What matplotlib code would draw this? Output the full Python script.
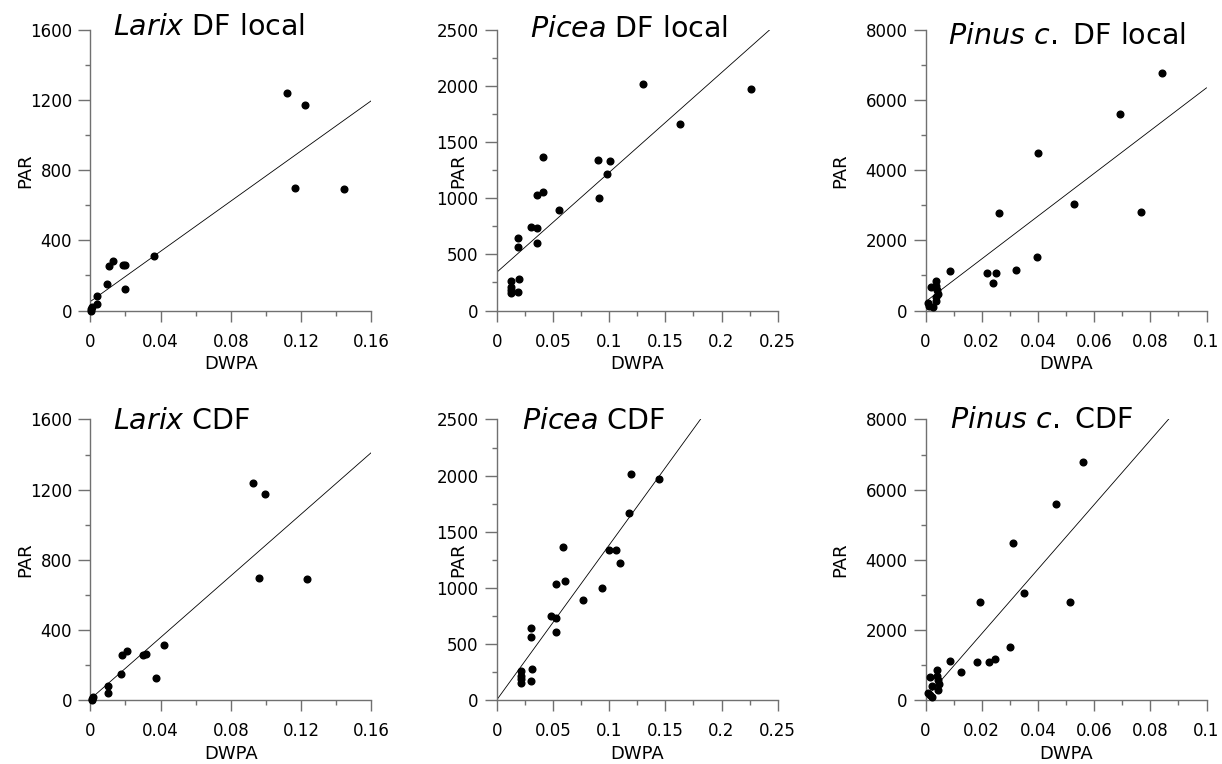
import numpy as np
import matplotlib
matplotlib.use('Agg')
import matplotlib.pyplot as plt
from matplotlib.ticker import FixedLocator, MultipleLocator

# ---- data ----
larix_par = [1240, 1175, 697, 693, 313, 282, 255, 258, 262, 150, 124, 81, 38, 19, 6, 0]
larix_dwpa_local = [0.112, 0.1224, 0.1167, 0.1446, 0.0363, 0.0129, 0.0105, 0.0185, 0.0196,
                    0.0097, 0.0198, 0.0038, 0.0038, 0.0008, 0.0005, 0.0003]
larix_dwpa_cdf = [0.0924, 0.0994, 0.0958, 0.1235, 0.0422, 0.0207, 0.0182, 0.0300, 0.0319,
                  0.0177, 0.0376, 0.0099, 0.0099, 0.0013, 0.0010, 0.0008]

picea_par = [2015, 1970, 1665, 1368, 1337, 1335, 1221, 1058, 1030, 1002, 892, 745, 733,
             606, 642, 562, 277, 262, 212, 183, 155, 165]
picea_dwpa_local = [0.130, 0.226, 0.1634, 0.0409, 0.0904, 0.1011, 0.0984, 0.0409, 0.0361,
                    0.0913, 0.0554, 0.0305, 0.0361, 0.0359, 0.0192, 0.0192, 0.0201, 0.013,
                    0.013, 0.013, 0.013, 0.0192]
picea_dwpa_cdf = [0.1199, 0.1446, 0.1176, 0.0591, 0.0998, 0.1060, 0.1099, 0.0611, 0.0526,
                  0.0935, 0.0766, 0.0481, 0.0528, 0.0528, 0.0308, 0.0308, 0.0317, 0.0214,
                  0.0214, 0.0214, 0.0214, 0.0308]

pinus_par = [6780, 5600, 4485, 3045, 2805, 2790, 1512, 1120, 1160, 1075, 1075, 795, 665,
             842, 685, 580, 470, 390, 285, 200, 130, 95]
pinus_dwpa_local = [0.0843, 0.0693, 0.0401, 0.0530, 0.0766, 0.0263, 0.0396, 0.0087, 0.0321,
                    0.0220, 0.0252, 0.0239, 0.0019, 0.0038, 0.0038, 0.0040, 0.0044, 0.0039,
                    0.0037, 0.0008, 0.0011, 0.0025]
pinus_dwpa_cdf = [0.0560, 0.0465, 0.0311, 0.0350, 0.0514, 0.0194, 0.0302, 0.0087, 0.0248,
                  0.0185, 0.0227, 0.0126, 0.0015, 0.0042, 0.0042, 0.0044, 0.0049, 0.0023,
                  0.0044, 0.0010, 0.0017, 0.0023]

# regression lines (slope, intercept)
fits = [(7160, 51), (8900, 340), (61000, 250),
        (8790, 5), (13800, 0), (92000, 50)]

titles = [('Larix', 'DF local'), ('Picea', 'DF local'), ('Pinus\\ c.', 'DF local'),
          ('Larix', 'CDF'), ('Picea', 'CDF'), ('Pinus\\ c.', 'CDF')]

larix_xticks = [0, 0.04, 0.08, 0.12, 0.16]
larix_xlabels = ['0', '0.04', '0.08', '0.12', '0.16']
larix_yticks = [0, 400, 800, 1200, 1600]
picea_xticks = [0, 0.05, 0.1, 0.15, 0.2, 0.25]
picea_xlabels = ['0', '0.05', '0.1', '0.15', '0.2', '0.25']
picea_yticks = [0, 500, 1000, 1500, 2000, 2500]
pinus_xticks = [0, 0.02, 0.04, 0.06, 0.08, 0.1]
pinus_xlabels = ['0', '0.02', '0.04', '0.06', '0.08', '0.1']
pinus_yticks = [0, 2000, 4000, 6000, 8000]

panels = [
    (larix_dwpa_local, larix_par, larix_xticks, larix_xlabels, larix_yticks, 0.02, 200),
    (picea_dwpa_local, picea_par, picea_xticks, picea_xlabels, picea_yticks, 0.025, 250),
    (pinus_dwpa_local, pinus_par, pinus_xticks, pinus_xlabels, pinus_yticks, 0.01, 1000),
    (larix_dwpa_cdf, larix_par, larix_xticks, larix_xlabels, larix_yticks, 0.02, 200),
    (picea_dwpa_cdf, picea_par, picea_xticks, picea_xlabels, picea_yticks, 0.025, 250),
    (pinus_dwpa_cdf, pinus_par, pinus_xticks, pinus_xlabels, pinus_yticks, 0.01, 1000),
]

# ---- layout ----
W, H = 1222, 764
lefts = [90.3, 496.7, 925.5]
tops = [30, 419.5]
aw, ah = 281, 280.5
title_off = [(23, 5), (33, 7), (22, 14), (23, 10), (25, 10), (25, 9)]  # px from top-left
ylab_x = [-0.20, -0.105, -0.27]

fig = plt.figure(figsize=(W / 100, H / 100), dpi=100)
gray = '#707070'

for i, (xs, ys, xt, xl, yt, xminor, yminor) in enumerate(panels):
    r, c = divmod(i, 3)
    ax = fig.add_axes([lefts[c] / W, (H - tops[r] - ah) / H, aw / W, ah / H])
    ax.set_xlim(0, xt[-1])
    ax.set_ylim(0, yt[-1])
    for s in ('top', 'right'):
        ax.spines[s].set_visible(False)
    for s in ('left', 'bottom'):
        ax.spines[s].set_color(gray)
        ax.spines[s].set_linewidth(1.0)

    ax.plot(xs, ys, 'o', ms=4.8, color='black', mec='black', clip_on=False, zorder=3)
    m, b = fits[i]
    lx = np.array([0, xt[-1]])
    ax.plot(lx, b + m * lx, color='black', lw=0.6)

    ax.xaxis.set_major_locator(FixedLocator(xt))
    ax.set_xticklabels(xl)
    ax.xaxis.set_minor_locator(MultipleLocator(xminor))
    ax.yaxis.set_major_locator(FixedLocator(yt))
    ax.set_yticklabels([str(v) for v in yt])
    ax.yaxis.set_minor_locator(MultipleLocator(yminor))
    ax.tick_params(which='both', direction='out', color=gray, width=1.0, labelsize=12)
    ax.tick_params(axis='x', which='major', length=8, pad=8)
    ax.tick_params(axis='y', which='major', length=9, pad=4)
    ax.tick_params(which='minor', length=3.6)

    ax.set_xlabel('DWPA', fontsize=13)
    ax.set_ylabel('PAR', fontsize=13)
    ax.xaxis.set_label_coords(0.5, -0.16)
    ax.yaxis.set_label_coords(ylab_x[c], 0.5)

    it, rest = titles[i]
    ox, oy = title_off[i]
    ax.text(ox / aw, 1 - oy / ah, r'$\mathit{' + it + '}$ ' + rest,
            transform=ax.transAxes, fontsize=20.5, ha='left', va='baseline')

fig.savefig('out.png', dpi=100)
